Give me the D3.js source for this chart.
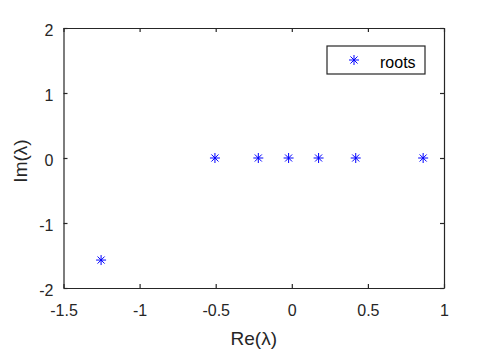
<!DOCTYPE html>
<html>
<head>
<meta charset="utf-8">
<script src="https://cdn.jsdelivr.net/npm/d3@7"></script>
<style>
  body { margin: 0; background: #fff; }
  svg { font-family: "Liberation Sans", Arial, sans-serif; }
</style>
</head>
<body>
<div id="chart"></div>
<script>
// roots of the polynomial
const reVals = [-1.253, -0.505, -0.220, -0.021, 0.176, 0.420, 0.863];
const imVals = [-1.57, 0, 0, 0, 0, 0, 0];
const xTicks = [-1.5, -1, -0.5, 0, 0.5, 1];
const yTicks = [-2, -1, 0, 1, 2];
const legendLabel = "roots";

const width = 491, height = 349;
const margin = { top: 28, right: 47, bottom: 61, left: 63.5 };
const axisColor = "#262626";

const svg = d3.select("#chart").append("svg")
    .attr("width", width)
    .attr("height", height);

const x = d3.scaleLinear().domain([-1.5, 1]).range([margin.left, width - margin.right]);
const y = d3.scaleLinear().domain([-2, 2]).range([height - margin.bottom, margin.top]);

const fmt = d => String(d);

// axes (MATLAB style: ticks pointing inward, box around)
const gx = svg.append("g")
    .attr("transform", `translate(0,${y(-2)})`)
    .call(d3.axisBottom(x).tickValues(xTicks).tickSizeInner(-4).tickSizeOuter(0).tickPadding(17).tickFormat(fmt));
const gxTop = svg.append("g")
    .attr("transform", `translate(0,${y(2)})`)
    .call(d3.axisTop(x).tickValues(xTicks).tickSizeInner(-4).tickSizeOuter(0).tickFormat(""));
const gy = svg.append("g")
    .attr("transform", `translate(${x(-1.5)},0)`)
    .call(d3.axisLeft(y).tickValues(yTicks).tickSizeInner(-4).tickSizeOuter(0).tickPadding(10).tickFormat(fmt));
const gyRight = svg.append("g")
    .attr("transform", `translate(${x(1)},0)`)
    .call(d3.axisRight(y).tickValues(yTicks).tickSizeInner(-4).tickSizeOuter(0).tickFormat(""));

[gx, gxTop, gy, gyRight].forEach(g => {
    g.select(".domain").attr("stroke", axisColor).attr("stroke-width", 1.2);
    g.selectAll(".tick line").attr("stroke", axisColor).attr("stroke-width", 1.2);
    g.selectAll(".tick text").attr("fill", "#262626").style("font-size", "16px")
        .style("font-family", "'Liberation Sans', Arial, sans-serif");
});
gy.selectAll(".tick text").attr("dy", "0.45em");

// axis labels
svg.append("text")
    .attr("x", (x(-1.5) + x(1)) / 2)
    .attr("y", 345)
    .attr("text-anchor", "middle")
    .attr("fill", "#262626")
    .style("font-size", "19px")
    .text("Re(λ)");

svg.append("text")
    .attr("transform", `translate(27,${(y(-2) + y(2)) / 2 + 3}) rotate(-90)`)
    .attr("text-anchor", "middle")
    .attr("fill", "#262626")
    .style("font-size", "19px")
    .text("Im(λ)");

// asterisk marker
const star = r => {
    const d = r * Math.SQRT1_2;
    return `M${-r},0L${r},0M0,${-r}L0,${r}M${-d},${-d}L${d},${d}M${-d},${d}L${d},${-d}`;
};

svg.append("g").selectAll("path")
    .data(reVals.map((re, i) => ({ re: re, im: imVals[i] })))
    .join("path")
    .attr("transform", d => `translate(${x(d.re)},${y(d.im)})`)
    .attr("d", star(5))
    .attr("fill", "none")
    .attr("stroke", "#0000ff")
    .attr("stroke-width", 1);

// legend
const leg = svg.append("g").attr("transform", "translate(327,46)");
leg.append("rect")
    .attr("width", 98)
    .attr("height", 28)
    .attr("fill", "#fff")
    .attr("stroke", axisColor)
    .attr("stroke-width", 1.2);
leg.append("path")
    .attr("transform", "translate(27,14)")
    .attr("d", star(5))
    .attr("fill", "none")
    .attr("stroke", "#0000ff")
    .attr("stroke-width", 1);
leg.append("text")
    .attr("x", 53)
    .attr("y", 22)
    .attr("fill", "#000")
    .style("font-size", "16px")
    .text(legendLabel);
</script>
</body>
</html>
